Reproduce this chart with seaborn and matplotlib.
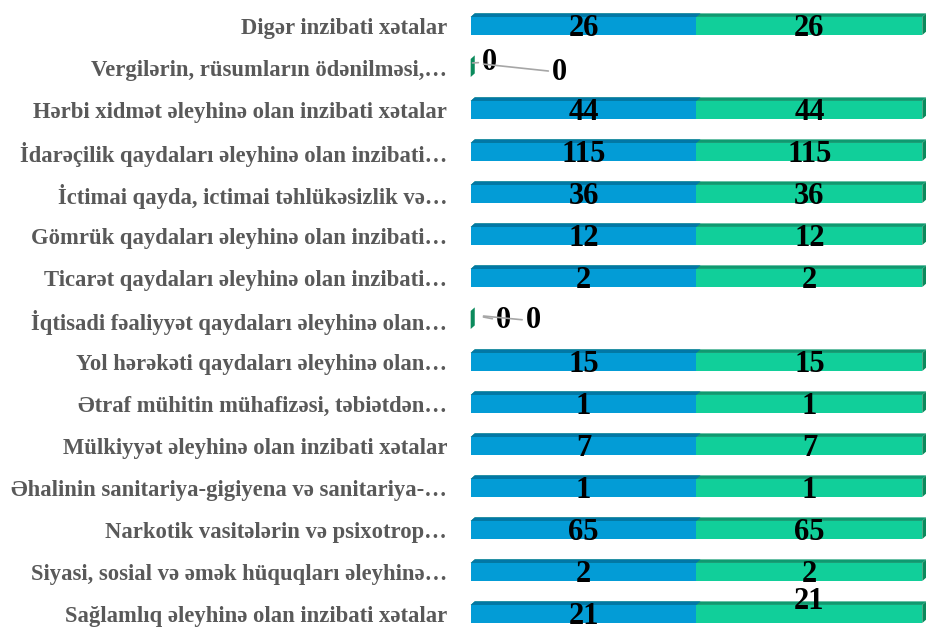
import numpy as np
import pandas as pd
import matplotlib
matplotlib.use("Agg")
import matplotlib.pyplot as plt
from matplotlib.patches import Polygon
import seaborn as sns

# categories, top to bottom as in the chart
categories = [
    "Digər inzibati xətalar",
    "Vergilərin, rüsumların ödənilməsi,…",
    "Hərbi xidmət əleyhinə olan inzibati xətalar",
    "İdarəçilik qaydaları əleyhinə olan inzibati…",
    "İctimai qayda, ictimai təhlükəsizlik və…",
    "Gömrük qaydaları əleyhinə olan inzibati…",
    "Ticarət qaydaları əleyhinə olan inzibati…",
    "İqtisadi fəaliyyət qaydaları əleyhinə olan…",
    "Yol hərəkəti qaydaları əleyhinə olan…",
    "Ətraf mühitin mühafizəsi, təbiətdən…",
    "Mülkiyyət əleyhinə olan inzibati xətalar",
    "Əhalinin sanitariya-gigiyena və sanitariya-…",
    "Narkotik vasitələrin və psixotrop…",
    "Siyasi, sosial və əmək hüquqları əleyhinə…",
    "Sağlamlıq əleyhinə olan inzibati xətalar",
]
series_blue = [26, 0, 44, 115, 36, 12, 2, 0, 15, 1, 7, 1, 65, 2, 21]
series_green = [26, 0, 44, 115, 36, 12, 2, 0, 15, 1, 7, 1, 65, 2, 21]

BLUE, BLUE_TOP = "#039cd6", "#0277a6"
GREEN, GREEN_TOP, GREEN_SIDE = "#11cf9a", "#0f9a70", "#0b8a5c"
LABEL_GRAY = "#595959"
SERIF = "Liberation Serif"

df = pd.DataFrame({"cat": categories, "blue": series_blue, "green": series_green})
tot = df["blue"] + df["green"]
df["blue_pct"] = (df["blue"] / tot * 100).fillna(0)
df["green_pct"] = (df["green"] / tot * 100).fillna(0)
df["total_pct"] = df["blue_pct"] + df["green_pct"]

sns.set_style("white")
fig = plt.figure(figsize=(9.26, 6.30), dpi=100)
ax = fig.add_axes([0.5083, -0.0079, 0.4877, 1.0])

bar_w = 0.43
sns.barplot(data=df, x="total_pct", y="cat", color=GREEN, saturation=1,
            width=bar_w, orient="h", ax=ax, errorbar=None, linewidth=0)
sns.barplot(data=df, x="blue_pct", y="cat", color=BLUE, saturation=1,
            width=bar_w, orient="h", ax=ax, errorbar=None, linewidth=0)

ax.set_xlim(0, 100)
ax.set_ylim(len(categories) - 0.5, -0.5)

# fake 3d: top faces and right side face
dx, dy = 0.9, 0.085
n = len(categories)
green_bars = ax.patches[:n]
blue_bars = ax.patches[n:2 * n]
for bars, top_col in [(green_bars, GREEN_TOP), (blue_bars, BLUE_TOP)]:
    for p in bars:
        x0, y0, w, h = p.get_x(), p.get_y(), p.get_width(), p.get_height()
        if w > 0:
            ax.add_patch(Polygon([(x0, y0), (x0 + w, y0), (x0 + w + dx, y0 - dy), (x0 + dx, y0 - dy)],
                                 closed=True, facecolor=top_col, edgecolor="none", clip_on=False))
for p in green_bars:
    x1, y0, h = p.get_x() + p.get_width(), p.get_y(), p.get_height()
    ax.add_patch(Polygon([(x1, y0), (x1, y0 + h), (x1 + dx, y0 + h - dy), (x1 + dx, y0 - dy)],
                         closed=True, facecolor=GREEN_SIDE, edgecolor="none", clip_on=False))

# value labels
val_font = dict(family=SERIF, fontsize=22, fontweight="bold", color="black",
                ha="center", va="center")
for i, row in df.iterrows():
    if tot[i] == 0:
        continue
    ax.text(row["blue_pct"] / 2, i + 0.06, str(row["blue"]), **val_font)
    gy = i - 0.3 if i == n - 1 else i + 0.06
    ax.text(row["blue_pct"] + row["green_pct"] / 2, gy, str(row["green"]), **val_font)

# zero rows: labels pulled out with leader lines
zero_offsets = {1: [(4.1, -0.14), (19.6, 0.1)], 7: [(7.2, 0.02), (13.8, 0.02)]}
for i, offs in zero_offsets.items():
    for (ox, oy), v in zip(offs, [series_blue[i], series_green[i]]):
        ax.annotate(str(v), xy=(0.4, i - 0.12), xytext=(ox, i + oy),
                    arrowprops=dict(arrowstyle="-", color="#a6a6a6", lw=1.2,
                                    shrinkA=0, shrinkB=8),
                    annotation_clip=False, **val_font)

ax.set_xlabel("")
ax.set_ylabel("")
ax.set_xticks([])
ax.tick_params(axis="y", length=0, pad=17)
for lab in ax.get_yticklabels():
    lab.set_fontfamily(SERIF)
    lab.set_fontsize(16.3)
    lab.set_fontweight("bold")
    lab.set_color(LABEL_GRAY)
sns.despine(ax=ax, left=True, bottom=True)

fig.savefig("out.png", dpi=100)
